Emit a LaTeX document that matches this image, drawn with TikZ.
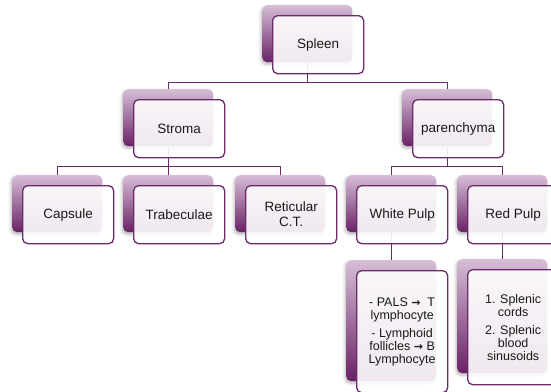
\documentclass[tikz,border=0pt]{standalone}
\usepackage{fontspec}
\setmainfont{Liberation Sans}
\newfontfamily\arrowfont{DejaVu Sans}
\usetikzlibrary{shadows,shadows.blur,backgrounds,calc}
\definecolor{plum}{RGB}{107,42,107}
\definecolor{lightplum}{RGB}{214,190,214}
\definecolor{darkplum}{RGB}{105,33,101}
\definecolor{txt}{RGB}{25,25,25}
\newcommand\rarr{{\arrowfont\bfseries\fontsize{11}{11}\selectfont →}}
\tikzset{
  backbox/.style={rectangle, rounded corners=5pt, minimum width=90pt, inner sep=0pt,
    top color=lightplum, bottom color=darkplum, anchor=north west,
    blur shadow={shadow xshift=-1pt, shadow yshift=-2pt, shadow blur radius=3pt, shadow opacity=30}},
  frontbox/.style={rectangle, rounded corners=5pt, minimum width=91pt, inner sep=0pt,
    draw=plum, line width=1.3pt, fill=white, fill opacity=0.9, text opacity=1,
    text=txt, anchor=north west, align=center, font=\fontsize{13.5}{15}\selectfont},
  detail/.style={font=\fontsize{12.5}{13}\selectfont},
  link/.style={draw=plum, line width=1.3pt},
}
\newcommand\pairbox[6][]{%
  \node[backbox, minimum height=#5pt] (#2-b) at (#3,#4) {};
  \node[frontbox, minimum height=#5pt+1pt, #1] (#2) at ($(#2-b.north west)+(10,10)$) {#6};}
\begin{document}
\begin{tikzpicture}[x=1pt,y=-1pt]
\useasboundingbox (0,0) rectangle (551,391);
\pairbox{sp}{262}{5}{57}{Spleen}
\pairbox{st}{123}{89}{57}{Stroma}
\pairbox{pa}{402}{89}{57}{parenchyma}
\pairbox{ca}{12}{175}{57}{Capsule}
\pairbox{tr}{123}{175}{57}{Trabeculae}
\pairbox{re}{235}{175}{57}{Reticular\\C.T.}
\pairbox{wp}{346}{175}{57}{White Pulp}
\pairbox{rp}{457}{175}{57}{Red Pulp}
\pairbox[detail]{wd}{346}{260}{121}{- PALS \rarr\ \ T\\lymphocyte\\[5pt]- Lymphoid\\follicles \rarr\ B\\Lymphocyte}
\pairbox[detail]{rd}{457}{259}{114}{1. Splenic\\cords\\[5pt]2. Splenic\\blood\\sinusoids}
\begin{scope}[on background layer]
  \draw[link] (sp-b.south) -- ++(0,20) -| (st-b.north);
  \draw[link] (sp-b.south) -- ++(0,20) -| (pa-b.north);
  \draw[link] (st-b.south) -- ++(0,20) -| (ca-b.north);
  \draw[link] (st-b.south) -- ++(0,20) -| (tr-b.north);
  \draw[link] (st-b.south) -- ++(0,20) -| (re-b.north);
  \draw[link] (pa-b.south) -- ++(0,20) -| (wp-b.north);
  \draw[link] (pa-b.south) -- ++(0,20) -| (rp-b.north);
  \draw[link] (wp-b.south) -- (wd-b.north);
  \draw[link] (rp-b.south) -- (rd-b.north);
\end{scope}
\end{tikzpicture}
\end{document}
